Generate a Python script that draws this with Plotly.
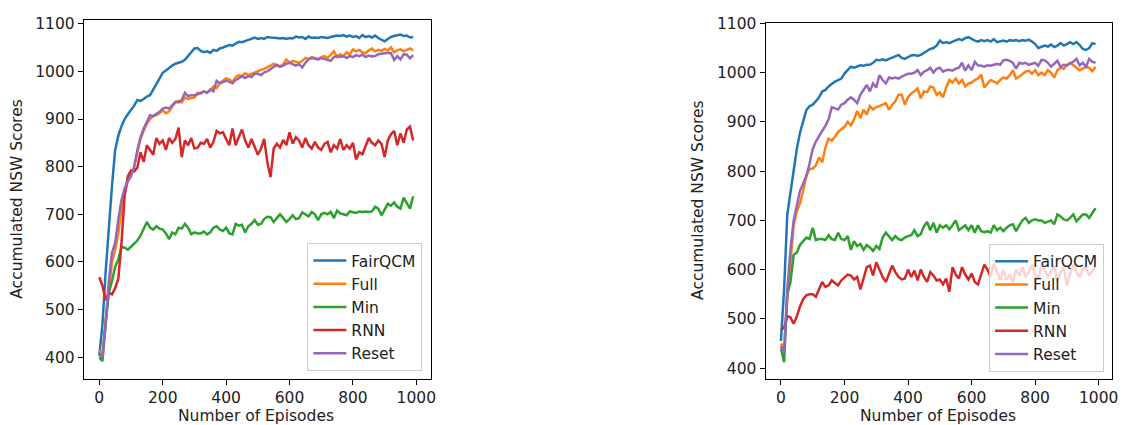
import plotly.graph_objects as go

episodes = list(range(0, 1000, 10))
series_names = ["FairQCM", "Full", "Min", "RNN", "Reset"]
colors = ["#1f77b4", "#ff7f0e", "#2ca02c", "#d62728", "#9467bd"]
y_ticks = [400, 500, 600, 700, 800, 900, 1000, 1100]
x_ticks = [0, 200, 400, 600, 800, 1000]

# ---- left panel ----
left_fairqcm = [403, 470, 580, 680, 760, 835, 865, 885, 900, 910,
                918, 928, 940, 938, 942, 947, 950, 962, 975, 988,
                997, 1002, 1008, 1012, 1016, 1018, 1020, 1024, 1032, 1042,
                1048, 1049, 1043, 1040, 1042, 1039, 1045, 1043, 1048, 1050,
                1053, 1055, 1054, 1058, 1062, 1061, 1064, 1066, 1068, 1071,
                1068, 1070, 1068, 1072, 1071, 1071, 1070, 1069, 1070, 1068,
                1070, 1069, 1073, 1071, 1072, 1068, 1073, 1070, 1071, 1070,
                1072, 1071, 1070, 1072, 1074, 1075, 1074, 1076, 1073, 1075,
                1072, 1074, 1070, 1076, 1072, 1074, 1071, 1075, 1070, 1067,
                1063, 1068, 1072, 1074, 1076, 1077, 1074, 1075, 1071, 1072]
left_full = [415, 405, 480, 545, 600, 625, 660, 710, 745, 770,
             785, 800, 830, 858, 875, 890, 900, 906, 908, 912,
             918, 912, 916, 925, 935, 938, 935, 945, 942, 944,
             945, 955, 953, 958, 955, 960, 968, 965, 975, 980,
             985, 983, 978, 988, 992, 990, 996, 992, 995, 998,
             1000, 1003, 1005, 1008, 1012, 1016, 1012, 1010, 1015, 1025,
             1018, 1022, 1020, 1018, 1022, 1028, 1026, 1030, 1028, 1026,
             1030, 1032, 1028, 1034, 1042, 1030, 1036, 1032, 1040, 1035,
             1046, 1042, 1045, 1040, 1038, 1044, 1048, 1042, 1045, 1043,
             1047, 1044, 1050, 1040, 1044, 1046, 1042, 1045, 1048, 1044]
left_min = [400, 392, 470, 535, 560, 590, 605, 632, 630, 626,
            632, 638, 645, 655, 668, 684, 672, 668, 675, 670,
            668, 660, 648, 662, 658, 672, 670, 680, 672, 658,
            662, 660, 660, 664, 658, 662, 672, 675, 668, 665,
            672, 660, 658, 680, 676, 678, 662, 675, 680, 688,
            678, 680, 690, 695, 694, 684, 692, 700, 692, 684,
            690, 698, 690, 692, 704, 700, 696, 705, 700, 688,
            700, 703, 700, 705, 692, 708, 702, 700, 698, 706,
            705, 703, 706, 705, 706, 705, 706, 716, 712, 698,
            710, 722, 718, 725, 716, 712, 735, 722, 712, 738]
left_rnn = [568, 550, 520, 535, 532, 545, 565, 640, 740, 780,
            792, 790, 798, 830, 810, 845, 835, 825, 860, 848,
            855, 835, 860, 850, 858, 882, 820, 855, 845, 860,
            838, 840, 850, 848, 858, 840, 852, 875, 870, 872,
            858, 845, 880, 845, 862, 878, 855, 840, 858, 840,
            825, 838, 858, 810, 778, 838, 848, 840, 856, 845,
            872, 848, 862, 855, 840, 860, 845, 838, 852, 840,
            835, 848, 852, 830, 845, 838, 858, 835, 845, 838,
            850, 815, 830, 826, 845, 860, 850, 845, 855, 848,
            820, 855, 868, 875, 845, 870, 850, 878, 884, 855]
left_reset = [405, 400, 470, 560, 620, 640, 690, 730, 755, 770,
              780, 800, 835, 862, 880, 895, 908, 906, 910, 915,
              922, 924, 922, 928, 936, 935, 940, 955, 948, 950,
              950, 952, 955, 958, 955, 962, 958, 980, 975, 978,
              980, 978, 975, 982, 985, 990, 986, 990, 988, 995,
              995, 992, 998, 1000, 1005, 1010, 1014, 1010, 1012, 1016,
              1018, 1015, 1012, 1015, 1008, 1018, 1025, 1028, 1026, 1025,
              1028, 1026, 1024, 1022, 1030, 1032, 1030, 1032, 1028, 1032,
              1030, 1034, 1032, 1035, 1030, 1033, 1031, 1032, 1036, 1037,
              1038, 1039, 1038, 1024, 1032, 1025, 1036, 1035, 1027, 1034]

# ---- right panel ----
right_fairqcm = [455, 560, 712, 760, 800, 845, 878, 902, 924, 932,
                 935, 942, 950, 962, 965, 972, 978, 982, 985, 988,
                 998, 1005, 1012, 1010, 1013, 1015, 1014, 1016, 1016, 1020,
                 1026, 1025, 1027, 1025, 1028, 1030, 1033, 1036, 1030, 1028,
                 1032, 1035, 1036, 1034, 1036, 1040, 1045, 1048, 1050, 1055,
                 1065, 1060, 1062, 1060, 1063, 1066, 1068, 1066, 1070, 1072,
                 1068, 1065, 1063, 1066, 1064, 1066, 1063, 1068, 1062, 1064,
                 1065, 1063, 1066, 1065, 1066, 1064, 1066, 1065, 1067, 1063,
                 1058, 1050, 1052, 1055, 1053, 1057, 1052, 1055, 1060, 1055,
                 1058, 1062, 1058, 1062, 1056, 1048, 1046, 1050, 1060, 1058]
right_full = [450, 440, 540, 625, 690, 718, 735, 760, 790, 805,
              805, 812, 828, 818, 848, 866, 862, 870, 880, 885,
              890, 900, 893, 905, 922, 908, 925, 915, 932, 925,
              930, 932, 935, 938, 925, 935, 942, 955, 955, 935,
              950, 958, 962, 968, 948, 962, 960, 972, 970, 955,
              960, 950, 970, 985, 980, 988, 978, 985, 972, 978,
              980, 985, 988, 996, 970, 978, 985, 982, 978, 985,
              990, 988, 995, 1005, 988, 992, 998, 1002, 1004, 998,
              1005, 995, 1000, 995, 1005, 1000, 990, 1005, 1010, 1008,
              1015, 1020, 1015, 1010, 1005, 1008, 1012, 1010, 1003, 1012]
right_min = [440, 412, 550, 575, 630, 635, 650, 658, 665, 662,
             685, 660, 662, 662, 660, 670, 662, 660, 675, 662,
             660, 668, 640, 658, 648, 652, 640, 650, 645, 638,
             648, 642, 665, 675, 668, 660, 668, 662, 660, 665,
             668, 670, 680, 668, 672, 688, 697, 680, 695, 675,
             690, 685, 690, 682, 690, 700, 680, 685, 690, 680,
             690, 675, 690, 678, 676, 678, 675, 690, 680, 685,
             678, 685, 690, 692, 678, 690, 700, 705, 695, 700,
             702, 700, 700, 695, 698, 700, 692, 712, 708, 702,
             700, 705, 712, 698, 705, 712, 712, 705, 715, 725]
right_rnn = [478, 482, 505, 503, 490, 505, 525, 540, 548, 550,
             550, 545, 560, 575, 565, 568, 578, 572, 568, 578,
             585, 590, 588, 580, 585, 560, 582, 605, 608, 588,
             615, 600, 585, 575, 590, 608, 595, 585, 580, 582,
             600, 585, 598, 578, 600, 585, 575, 595, 588, 578,
             580, 570, 582, 555, 605, 590, 582, 605, 590, 580,
             592, 575, 570, 590, 610, 600, 585, 612, 595, 580,
             598, 580, 590, 575, 600, 588, 605, 585, 595, 610,
             590, 580, 608, 600, 585, 598, 608, 575, 595, 605,
             568, 592, 610, 595, 585, 600, 605, 588, 598, 605]
right_reset = [445, 432, 560, 640, 700, 730, 760, 775, 790, 815,
               845, 860, 872, 882, 892, 905, 930, 928, 925, 935,
               938, 945, 950, 945, 938, 955, 965, 975, 962, 978,
               970, 995, 985, 978, 990, 988, 990, 988, 992, 995,
               998, 998, 1000, 1005, 995, 1002, 1005, 1010, 1000, 1008,
               1010, 1002, 1005, 1006, 1004, 1008, 1010, 1020, 1004, 1015,
               1005, 1022, 1015, 1014, 1012, 1015, 1014, 1016, 1018, 1016,
               1025, 1026, 1024, 1020, 1008, 1020, 1018, 1020, 1016, 1018,
               1020, 1014, 1026, 1025, 1020, 1012, 1018, 1024, 1012, 1016,
               1015, 1018, 1022, 1028, 1015, 1020, 1012, 1028, 1022, 1020]

left_data = [left_fairqcm, left_full, left_min, left_rnn, left_reset]
right_data = [right_fairqcm, right_full, right_min, right_rnn, right_reset]

W, H = 1126, 425
FONT = "DejaVu Sans"
FS = 15.5
TXT = "#222222"

fig = go.Figure()
for name, col, ys in zip(series_names, colors, left_data):
    fig.add_trace(go.Scatter(x=episodes, y=ys, mode="lines", name=name,
                             line=dict(color=col, width=2.5),
                             xaxis="x", yaxis="y", legend="legend"))
for name, col, ys in zip(series_names, colors, right_data):
    fig.add_trace(go.Scatter(x=episodes, y=ys, mode="lines", name=name,
                             line=dict(color=col, width=2.5),
                             xaxis="x2", yaxis="y2", legend="legend2"))

axis_common = dict(showline=True, mirror=True, linecolor="black", linewidth=1,
                   ticks="outside", ticklen=5, tickwidth=1, tickcolor="black",
                   showgrid=False, zeroline=False,
                   tickfont=dict(family=FONT, size=FS, color=TXT))

legend_common = dict(bgcolor="rgba(255,255,255,0.8)", bordercolor="#cccccc",
                     borderwidth=1, font=dict(family=FONT, size=FS, color=TXT),
                     xanchor="right", yanchor="bottom", itemwidth=33,
                     tracegroupgap=0)

fig.update_layout(
    width=W, height=H,
    margin=dict(l=0, r=0, t=0, b=0),
    paper_bgcolor="white", plot_bgcolor="white",
    showlegend=True,
    xaxis=dict(domain=[84.3 / W, 433.3 / W], range=[-49, 1045],
               tickvals=x_ticks, anchor="y", **axis_common),
    yaxis=dict(domain=[1 - 378 / H, 1 - 12 / H], range=[354.7, 1108.2],
               tickvals=y_ticks, anchor="x", **axis_common),
    xaxis2=dict(domain=[770.3 / W, 1118.7 / W], range=[-48.5, 1041],
                tickvals=x_ticks, anchor="y2", **axis_common),
    yaxis2=dict(domain=[1 - 378 / H, 1 - 15 / H], range=[378.1, 1101.4],
                tickvals=y_ticks, anchor="x2", **axis_common),
    legend=dict(x=425 / W, y=1 - 370 / H, **legend_common),
    legend2=dict(x=1111 / W, y=1 - 370.7 / H, **legend_common),
)

ann_font = dict(family=FONT, size=FS, color=TXT)
for cx, cy in [(17.5, 195), (703, 196)]:
    fig.add_annotation(text="Accumulated NSW Scores", x=cx / W, y=1 - cy / H,
                       xref="paper", yref="paper", showarrow=False,
                       textangle=-90, font=ann_font,
                       xanchor="center", yanchor="middle")
for cx in [258, 944]:
    fig.add_annotation(text="Number of Episodes", x=cx / W, y=1 - 416 / H,
                       xref="paper", yref="paper", showarrow=False,
                       font=ann_font, xanchor="center", yanchor="middle")

fig.write_html("out.html")
